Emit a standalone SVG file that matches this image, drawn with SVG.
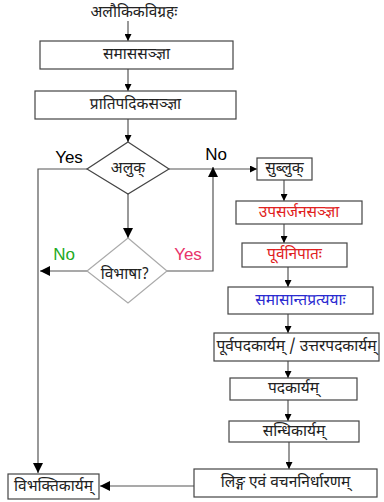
<svg xmlns="http://www.w3.org/2000/svg" width="384" height="502" viewBox="0 0 384 502">
<style>
.box{fill:#fff;stroke:#444;stroke-width:1.2}
.dia{fill:#fff;stroke:#444;stroke-width:1.2}
.dia2{fill:#fff;stroke:#aaa;stroke-width:1.2}
.t{font-family:"Noto Sans Devanagari","Lohit Devanagari","Noto Sans","DejaVu Sans",sans-serif;font-size:15.5px;fill:#222;text-anchor:middle;dominant-baseline:central}
.l{font-family:"Liberation Sans",Arial,sans-serif;font-size:17px;text-anchor:middle}
.c{fill:none;stroke:#555;stroke-width:1.2}
</style>
<defs>
<marker id="ah" viewBox="0 0 10 10" refX="10" refY="5" markerWidth="7" markerHeight="7" markerUnits="userSpaceOnUse" orient="auto">
<path d="M0,0 L10,5 L0,10 z" fill="#000"/>
</marker>
<marker id="ahb" viewBox="0 0 10 10" refX="10" refY="5" markerWidth="10" markerHeight="10" markerUnits="userSpaceOnUse" orient="auto">
<path d="M0,0 L10,5 L0,10 z" fill="#000"/>
</marker>
</defs>
<g id="connectors">
<path class="c" d="M128,21 V41" marker-end="url(#ah)"/>
<path class="c" d="M128,69 V91" marker-end="url(#ah)"/>
<path class="c" d="M128,119 V142" marker-end="url(#ah)"/>
<path class="c" d="M87,169 H38 V473" marker-end="url(#ahb)"/>
<path class="c" d="M169,169 H257" marker-end="url(#ah)"/>
<path class="c" d="M128,194 V238" marker-end="url(#ahb)"/>
<path class="c" d="M167,271 H213 V167" marker-end="url(#ahb)"/>
<path class="c" d="M87,271 H40" marker-end="url(#ahb)"/>
<path class="c" d="M284,180 V201" marker-end="url(#ah)"/>
<path class="c" d="M284,224 V243" marker-end="url(#ah)"/>
<path class="c" d="M288,267 V287" marker-end="url(#ah)"/>
<path class="c" d="M288,314 V333" marker-end="url(#ah)"/>
<path class="c" d="M288,361 V378" marker-end="url(#ah)"/>
<path class="c" d="M288,400 V421" marker-end="url(#ah)"/>
<path class="c" d="M289,442 V469" marker-end="url(#ah)"/>
<path class="c" d="M194,486 H100" marker-end="url(#ahb)"/>
</g>
<g id="start"><text class="t" x="134" y="13">अलौकिकविग्रहः</text></g>
<g id="samasa"><rect class="box" x="40" y="41" width="193" height="28"/><text class="t" x="136.5" y="55">समाससञ्ज्ञा</text></g>
<g id="pratipadika"><rect class="box" x="35" y="91" width="201" height="28"/><text class="t" x="135.5" y="105">प्रातिपदिकसञ्ज्ञा</text></g>
<g id="aluk"><polygon class="dia" points="128,142 169,169 128,194 87,169"/><text class="t" x="128" y="169">अलुक्</text></g>
<g id="vibhasha"><polygon class="dia2" points="128,238 167,271 128,303 87,271"/><text class="t" x="125" y="275">विभाषा?</text></g>
<g id="labels">
<text class="l" x="69" y="163" fill="#000">Yes</text>
<text class="l" x="216" y="160" fill="#000">No</text>
<text class="l" x="64" y="260" fill="#22aa22">No</text>
<text class="l" x="188" y="260" fill="#e8336a">Yes</text>
</g>
<g id="subluk"><rect class="box" x="257" y="158" width="55" height="22"/><text class="t" x="284.5" y="169">सुब्लुक्</text></g>
<g id="upasarjana"><rect class="box" x="236" y="201" width="126" height="23"/><text class="t" x="299" y="212.5" style="fill:#e02020">उपसर्जनसञ्ज्ञा</text></g>
<g id="purvanipata"><rect class="box" x="242" y="243" width="105" height="24"/><text class="t" x="294.5" y="255" style="fill:#e02020">पूर्वनिपातः</text></g>
<g id="samasanta"><rect class="box" x="228" y="287" width="145" height="27"/><text class="t" x="300.5" y="300.5" style="fill:#2a2ad0">समासान्तप्रत्ययाः</text></g>
<g id="purvapada"><rect class="box" x="214" y="333" width="165" height="28"/><text class="t" x="296.5" y="347">पूर्वपदकार्यम् / उत्तरपदकार्यम्</text></g>
<g id="padakarya"><rect class="box" x="230" y="378" width="127" height="22"/><text class="t" x="293.5" y="389">पदकार्यम्</text></g>
<g id="sandhi"><rect class="box" x="229" y="421" width="130" height="21"/><text class="t" x="294" y="431.5">सन्धिकार्यम्</text></g>
<g id="linga"><rect class="box" x="194" y="469" width="183" height="28"/><text class="t" x="285.5" y="483">लिङ्ग एवं वचननिर्धारणम्</text></g>
<g id="vibhakti"><rect class="box" x="8" y="474" width="91" height="25"/><text class="t" x="53.5" y="486.5">विभक्तिकार्यम्</text></g>
</svg>
